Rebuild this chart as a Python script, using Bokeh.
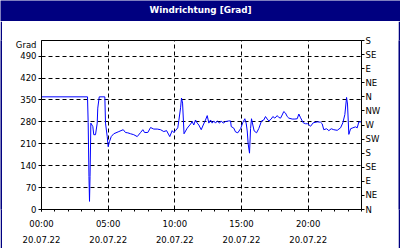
from bokeh.plotting import figure
from bokeh.models import Range1d, FixedTicker, LinearAxis, Label
from bokeh.layouts import column, row
from bokeh.embed import file_html
from bokeh.resources import INLINE

TITLE = "Windrichtung [Grad]"
Y_LABEL = "Grad"
Y_LABEL_POS = 525
DATE = "20.07.22"

# time of day in hours, wind direction in degrees
hours = [0.00, 3.45, 3.50, 3.56, 3.60, 3.64, 3.68, 3.70, 3.85, 3.92, 4.05, 4.18, 4.22, 4.33,
         4.75, 4.80, 4.93, 5.00, 5.10, 5.23, 5.42, 5.80, 6.13, 6.30, 6.47, 6.68, 6.92, 7.18,
         7.43, 7.60, 7.73, 7.97, 8.18, 8.42, 8.68, 8.93, 9.17, 9.38, 9.62, 9.80, 9.92, 10.05,
         10.22, 10.30, 10.43, 10.50, 10.58, 10.69, 10.93, 11.18, 11.30, 11.42, 11.55, 11.68,
         11.80, 11.98, 12.13, 12.30, 12.43, 12.55, 12.68, 12.80, 12.92, 13.05, 13.18, 13.35,
         13.48, 13.63, 13.80, 14.05, 14.18, 14.23, 14.42, 14.55, 14.72, 14.93, 15.10, 15.25,
         15.35, 15.43, 15.50, 15.60, 15.68, 15.75, 15.85, 15.95, 16.13, 16.30, 16.50, 16.67,
         16.80, 16.93, 17.05, 17.23, 17.35, 17.50, 17.68, 17.80, 17.93, 18.05, 18.17, 18.30,
         18.43, 18.55, 18.80, 19.00, 19.18, 19.30, 19.43, 19.63, 19.80, 19.97, 20.18, 20.38,
         20.68, 20.93, 21.05, 21.17, 21.38, 21.55, 21.73, 21.92, 22.18, 22.43, 22.60, 22.75,
         22.88, 22.95, 23.05, 23.18, 23.35, 23.55, 23.68, 23.80, 23.98]
degrees = [360, 360, 278, 106, 26, 106, 212, 276, 265, 239, 239, 276, 324, 360,
           360, 276, 233, 201, 217, 233, 242, 249, 255, 246, 245, 242, 239, 233,
           246, 255, 246, 246, 262, 257, 257, 255, 249, 252, 233, 252, 246, 252,
           261, 284, 325, 356, 340, 242, 260, 273, 281, 270, 286, 276,
           270, 255, 270, 286, 300, 276, 286, 276, 283, 276, 283, 276,
           283, 276, 281, 283, 283, 265, 260, 248, 245, 258, 278, 290,
           276, 251, 210, 180, 259, 290, 270, 251, 245, 259, 283, 286,
           297, 289, 283, 289, 297, 292, 300, 294, 292, 302, 313, 308,
           297, 292, 289, 289, 290, 305, 293, 277, 274, 274, 266, 277,
           280, 279, 274, 255, 258, 252, 258, 255, 253, 261, 277, 303,
           358, 337, 240, 258, 261, 264, 261, 280, 280]

time_ticks = [0, 5, 10, 15, 20]
time_labels = ["00:00", "05:00", "10:00", "15:00", "20:00"]
minor_hours = list(range(0, 25))
deg_ticks = [0, 70, 140, 210, 280, 350, 420, 490]
compass_deg = [0, 45, 90, 135, 180, 225, 270, 315, 360, 405, 450, 495, 540]
compass_lbl = ["N", "NE", "E", "SE", "S", "SW", "W", "NW", "N", "NE", "E", "SE", "S"]

NAVY = "#000080"
FONT = "DejaVu Sans"
FS = "8.5px"


def filler(w, h):
    f = figure(width=w, height=h, toolbar_location=None, output_backend="svg",
               x_axis_location=None, y_axis_location=None, min_border=0,
               border_fill_color=NAVY, background_fill_color=NAVY,
               outline_line_color=None)
    f.grid.visible = False
    return f


# title bar
tfig = filler(400, 21)
tfig.add_layout(Label(x=200, y=12, x_units="screen", y_units="screen", text=TITLE,
                      text_align="center", text_baseline="middle", text_color="white",
                      text_font=FONT, text_font_size="8.8px", text_font_style="bold"))

p = figure(width=396, height=227, x_range=Range1d(0, 24), y_range=Range1d(0, 540),
           output_backend="svg", toolbar_location=None,
           min_border_left=39, min_border_right=37, min_border_top=19, min_border_bottom=38,
           background_fill_color="white", border_fill_color="white",
           outline_line_color="black")

p.line(hours, degrees, line_color="#0000FF", line_width=1)

# bottom axis
xa = p.xaxis[0]
xa.ticker = FixedTicker(ticks=time_ticks, minor_ticks=minor_hours)
xa.major_label_overrides = {t: f"{l}\n{DATE}" for t, l in zip(time_ticks, time_labels)}
xa.axis_line_color = "black"
xa.major_tick_line_color = "black"
xa.minor_tick_line_color = "black"
xa.major_tick_out = 2
xa.major_tick_in = 0
xa.minor_tick_out = 2
xa.minor_tick_in = 0
xa.major_label_standoff = 7
xa.major_label_text_font = FONT
xa.major_label_text_font_size = FS
xa.major_label_text_color = "black"
xa.major_label_text_line_height = 1.65

# left axis: labels on major ticks (incl. unit label), tick marks drawn as minor ticks
ya = p.yaxis[0]
ya.ticker = FixedTicker(ticks=deg_ticks + [Y_LABEL_POS], minor_ticks=deg_ticks)
ya.major_label_overrides = {Y_LABEL_POS: Y_LABEL}
ya.axis_line_color = "black"
ya.major_tick_line_color = None
ya.minor_tick_line_color = "black"
ya.major_tick_out = 3
ya.major_tick_in = 0
ya.minor_tick_out = 3
ya.minor_tick_in = 0
ya.major_label_standoff = 2
ya.major_label_text_font = FONT
ya.major_label_text_font_size = FS
ya.major_label_text_color = "black"

# right compass axis
ra = LinearAxis(ticker=FixedTicker(ticks=compass_deg, minor_ticks=[]),
                major_label_overrides={d: l for d, l in zip(compass_deg, compass_lbl)})
ra.axis_line_color = "black"
ra.major_tick_line_color = "black"
ra.major_tick_out = 3
ra.major_tick_in = 0
ra.major_label_standoff = 1
ra.major_label_text_font = FONT
ra.major_label_text_font_size = FS
ra.major_label_text_color = "black"
p.add_layout(ra, "right")

# grids
p.xgrid.ticker = FixedTicker(ticks=time_ticks[1:])
p.ygrid.ticker = FixedTicker(ticks=deg_ticks[1:])
for g in (p.xgrid[0], p.ygrid[0]):
    g.grid_line_color = "black"
    g.grid_line_dash = "4 3"
    g.grid_line_width = 1

layout = column(tfig, row(filler(2, 227), p, filler(2, 227)), filler(400, 2))

open("out.html", "w").write(file_html(layout, INLINE))
